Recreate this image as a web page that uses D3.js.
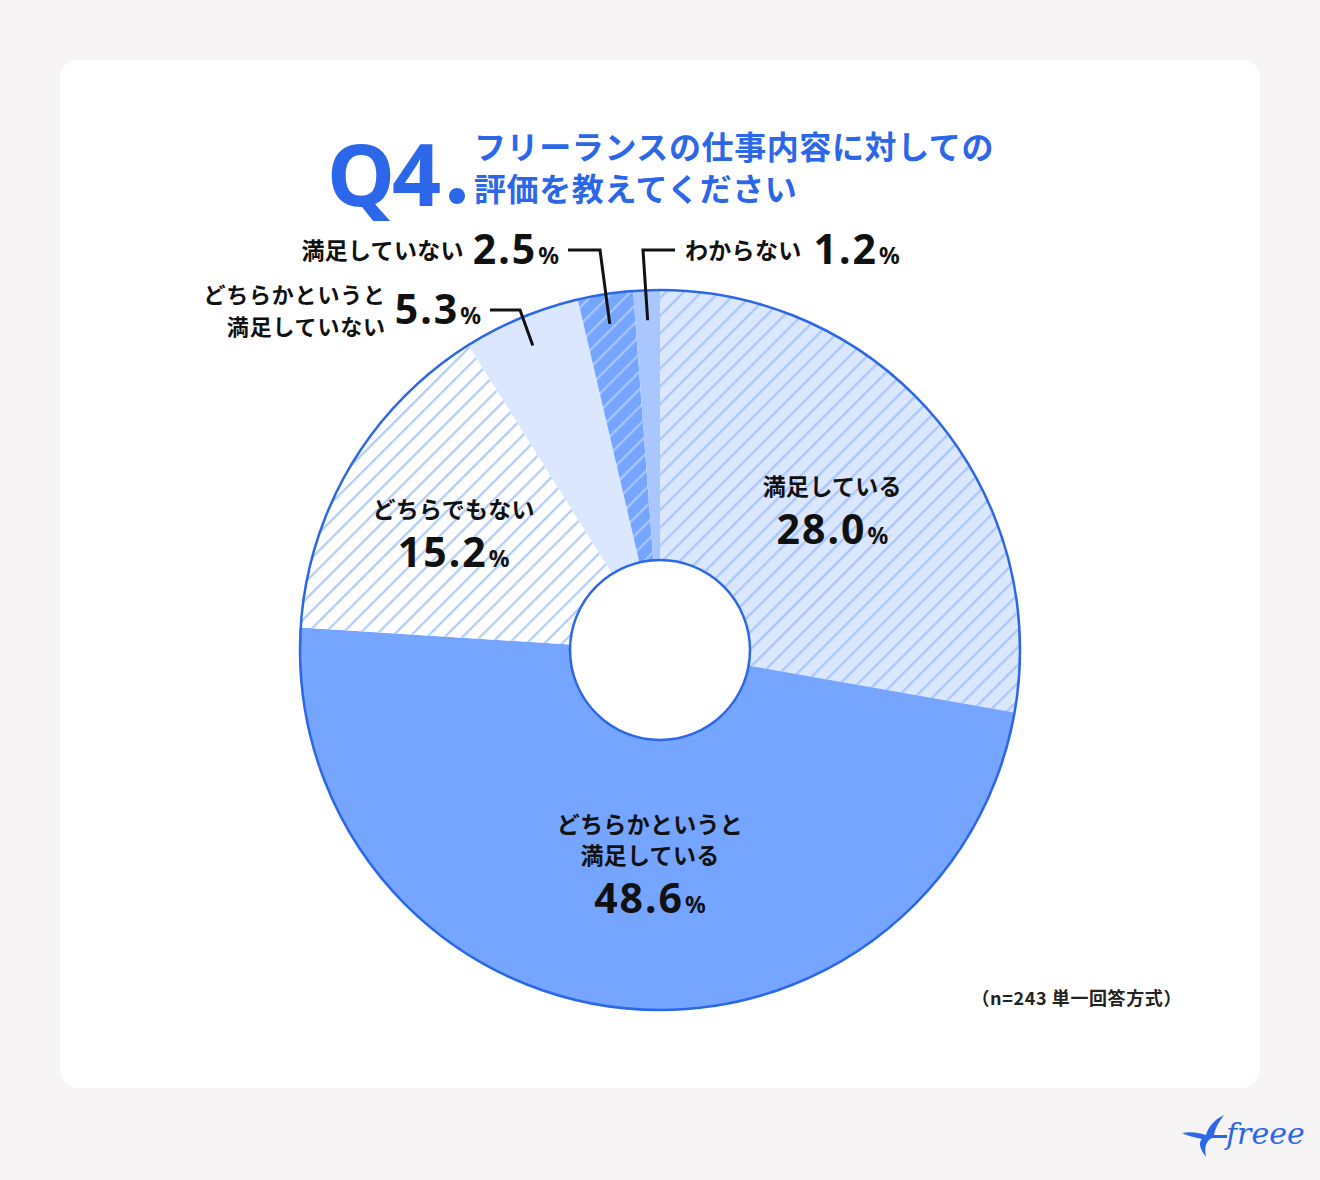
<!DOCTYPE html>
<html><head><meta charset="utf-8">
<script src="https://cdn.jsdelivr.net/npm/d3@7"></script>
<style>
html,body{margin:0;padding:0;background:#f6f4f5;}
svg{display:block;font-family:"Noto Sans CJK JP","Noto Sans",sans-serif;}
</style></head>
<body>
<svg id="chart" width="1320" height="1180"></svg>
<script>
const categories = ["満足している","どちらかというと満足している","どちらでもない","どちらかというと満足していない","満足していない","わからない"];
const values = [28.0, 48.6, 15.2, 5.3, 2.5, 1.2];
const valueLabels = ["28.0","48.6","15.2","5.3","2.5","1.2"];
const labelLines = [["満足している"],["どちらかというと","満足している"],["どちらでもない"],["どちらかというと","満足していない"],["満足していない"],["わからない"]];
const fills = ["#dbe6ff","#75a5ff","#ffffff","#dbe6ff","#75a5ff","#a9c6ff"];
const hatches = ["#a9c6ff",null,"#b3cdfa",null,"#a9c6ff",null];
const titleLines = ["フリーランスの仕事内容に対しての","評価を教えてください"];
const note = "（n=243 単一回答方式）";

const svg = d3.select("#chart");
const defs = svg.append("defs");
hatches.forEach((h,i)=>{
  if(!h) return;
  const p = defs.append("pattern").attr("id","hatch"+i).attr("patternUnits","userSpaceOnUse")
    .attr("width",12.5).attr("height",12.5).attr("patternTransform","rotate(45)");
  p.append("rect").attr("width",12.5).attr("height",12.5).attr("fill",fills[i]);
  p.append("rect").attr("x",0).attr("y",0).attr("width",2.3).attr("height",12.5).attr("fill",h);
});

// card
svg.append("rect").attr("x",60).attr("y",60).attr("width",1200).attr("height",1028).attr("rx",18).attr("fill","#ffffff");

// title
const blue = "#2b67e8";
svg.append("text").attr("x",327).attr("y",206).attr("font-size",86).attr("font-weight",700)
  .attr("font-family","'Noto Sans',sans-serif").attr("fill",blue).attr("letter-spacing",-3).text("Q4");
svg.append("circle").attr("cx",457).attr("cy",196).attr("r",8).attr("fill",blue);
const tt = svg.append("text").attr("x",474).attr("y",159).attr("font-size",32).attr("font-weight",700)
  .attr("letter-spacing",0.6).attr("fill",blue);
titleLines.forEach((t,i)=>{
  tt.append("tspan").attr("x",474).attr("y",159+i*42).text(t);
});

const cx=660, cy=650, R=360, r0=90;
const g = svg.append("g").attr("transform",`translate(${cx},${cy})`);
const pie = d3.pie().sort(null).value(d=>d);
const arcs = pie(values);
const arc = d3.arc().innerRadius(r0).outerRadius(R);
g.selectAll("path.slice").data(arcs).enter().append("path").attr("class","slice")
  .attr("d",arc).attr("fill",(d,i)=>hatches[i]?`url(#hatch${i})`:fills[i]);
g.append("circle").attr("r",R).attr("fill","none").attr("stroke",blue).attr("stroke-width",2.5);
g.append("circle").attr("r",r0).attr("fill","#fff").attr("stroke",blue).attr("stroke-width",2.5);

const numSize = 41, pctSize = 23, lblSize = 23;

// inside labels
const insideRadius = [225,212,240];
const insideOffset = [[0,5],[15,3],[0,6]];
[0,1,2].forEach(i=>{
  const a = arcs[i];
  const m = (a.startAngle+a.endAngle)/2;
  const x = Math.sin(m)*insideRadius[i]+insideOffset[i][0];
  const y = -Math.cos(m)*insideRadius[i]+insideOffset[i][1];
  const lines = labelLines[i];
  const n = lines.length;
  const top = y - (n*31+44)/2;
  const lt = g.append("text").attr("text-anchor","middle")
      .attr("font-size",lblSize).attr("font-weight",700).attr("letter-spacing",0.3).attr("fill","#111");
  lines.forEach((t,k)=>{
    lt.append("tspan").attr("x",x).attr("y",top+22+k*31).text(t);
  });
  const vt = g.append("text").attr("x",x).attr("y",top+n*31+40).attr("text-anchor","middle")
    .attr("font-family","'Noto Sans',sans-serif").attr("font-weight",700).attr("fill","#111");
  vt.append("tspan").attr("font-size",numSize).attr("letter-spacing",2).text(valueLabels[i]);
  vt.append("tspan").attr("font-size",pctSize).attr("dx",1).text("%");
});

// outside labels with leaders
const leaderR = 330;
const outside = {
  3:{elbow:[520,310],end:[490,310],anchor:"end"},
  4:{elbow:[600,250],end:[568,250],anchor:"end"},
  5:{elbow:[643,250],end:[675,250],anchor:"start"}
};
Object.keys(outside).forEach(k=>{
  const i=+k, o=outside[k], a=arcs[i];
  const m=(a.startAngle+a.endAngle)/2;
  const px=cx+Math.sin(m)*leaderR, py=cy-Math.cos(m)*leaderR;
  svg.append("path").attr("d",`M${px},${py}L${o.elbow[0]},${o.elbow[1]}L${o.end[0]},${o.end[1]}`)
    .attr("fill","none").attr("stroke","#111").attr("stroke-width",3);
  const tx = o.anchor==="end"? o.end[0]-9 : o.end[0]+10;
  const vt = svg.append("text").attr("y",o.end[1]+14).attr("font-family","'Noto Sans',sans-serif")
    .attr("font-weight",700).attr("fill","#111");
  const lines = labelLines[i];
  if(o.anchor==="end"){
    vt.attr("x",tx).attr("text-anchor","end");
    vt.append("tspan").attr("font-size",numSize).attr("letter-spacing",2).text(valueLabels[i]);
    vt.append("tspan").attr("font-size",pctSize).attr("dx",1).text("%");
    const vw = vt.node().getComputedTextLength();
    const lx = tx - vw - 10;
    const two = lines.length>1;
    const lt = svg.append("text").attr("text-anchor","end")
        .attr("font-size",two?22:lblSize).attr("font-weight",700).attr("letter-spacing",two?0.8:0.3).attr("fill","#111");
    lines.forEach((t,j)=>{
      const y = !two ? o.end[1]+9 : o.end[1]-7+(j)*32;
      lt.append("tspan").attr("x",lx).attr("y",y).text(t);
    });
  } else {
    const lt = svg.append("text").attr("x",tx).attr("y",o.end[1]+9).attr("font-size",lblSize)
      .attr("font-weight",700).attr("letter-spacing",0.3).attr("fill","#111").text(lines[0]);
    const lw = lt.node().getComputedTextLength();
    vt.attr("x",tx+lw+12);
    vt.append("tspan").attr("font-size",numSize).attr("letter-spacing",2).text(valueLabels[i]);
    vt.append("tspan").attr("font-size",pctSize).attr("dx",1).text("%");
  }
});

// footnote
svg.append("text").attr("x",1182).attr("y",1005).attr("text-anchor","end").attr("font-size",18)
  .attr("font-weight",700).attr("letter-spacing",0.6).attr("fill","#222").text(note);

// logo
const lg = svg.append("g").attr("transform","translate(1182,1115)").attr("fill",blue);
lg.append("path").attr("d","M0,18 C10,16 18,18 24,20 C26,12 32,5 42,0 C36,8 33,14 32,20 L45,20 L45,23 L30,23 C24,26 22,32 24,42 C18,34 16,28 20,24 C12,22 6,21 0,18 Z");
lg.append("text").attr("x",44).attr("y",29).attr("font-size",30).attr("font-style","italic")
  .attr("font-family","'DejaVu Serif',serif").attr("fill",blue).text("freee");
</script>
</body></html>
